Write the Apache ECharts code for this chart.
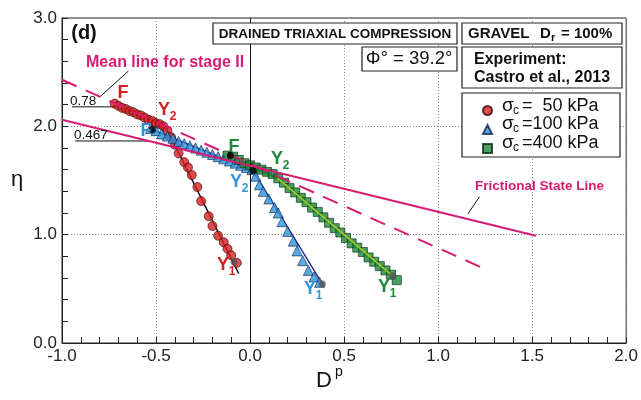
<!DOCTYPE html>
<html><head><meta charset="utf-8">
<script src="https://cdn.jsdelivr.net/npm/echarts@6/dist/echarts.min.js"></script>
<style>html,body{margin:0;padding:0;background:#fff}#c{width:641px;height:400px}</style>
</head><body><div id="c"></div>
<script>
// ---- data ----
const red50 = [[-0.72,2.21],[-0.70,2.19],[-0.68,2.17],[-0.66,2.16],[-0.64,2.14],[-0.62,2.13],[-0.60,2.11],[-0.58,2.10],[-0.56,2.08],[-0.54,2.06],[-0.52,2.05],[-0.50,2.03],[-0.48,2.02],[-0.46,2.00],[-0.44,1.96],[-0.42,1.90],[-0.40,1.83],[-0.38,1.75],[-0.35,1.67],[-0.33,1.62],[-0.31,1.55],[-0.28,1.44],[-0.26,1.31],[-0.22,1.17],[-0.20,1.08],[-0.17,0.99],[-0.14,0.93],[-0.12,0.87],[-0.10,0.81],[-0.07,0.74]];
const blue100 = [[-0.53,1.98],[-0.50,1.96],[-0.47,1.93],[-0.44,1.91],[-0.41,1.89],[-0.38,1.86],[-0.35,1.84],[-0.32,1.82],[-0.29,1.80],[-0.26,1.78],[-0.23,1.76],[-0.20,1.74],[-0.17,1.72],[-0.14,1.70],[-0.11,1.68],[-0.08,1.66],[-0.05,1.64],[-0.02,1.62],[0.01,1.60],[0.03,1.54],[0.05,1.46],[0.07,1.40],[0.10,1.33],[0.13,1.25],[0.15,1.20],[0.17,1.12],[0.20,1.03],[0.23,0.94],[0.25,0.85],[0.28,0.76],[0.31,0.67],[0.34,0.61],[0.37,0.56]];
const green400 = [[-0.12,1.73],[-0.09,1.72],[-0.06,1.69],[-0.03,1.66],[0.00,1.64],[0.03,1.62],[0.06,1.60],[0.09,1.58],[0.12,1.56],[0.15,1.52],[0.18,1.48],[0.21,1.43],[0.24,1.39],[0.27,1.34],[0.30,1.30],[0.33,1.25],[0.36,1.21],[0.39,1.16],[0.42,1.11],[0.45,1.06],[0.48,1.02],[0.51,0.97],[0.54,0.92],[0.57,0.88],[0.60,0.84],[0.63,0.79],[0.66,0.75],[0.69,0.71],[0.72,0.67],[0.75,0.63],[0.78,0.58]];
const redFit = [[-0.72,2.21],[-0.45,2.00],[-0.06,0.64]];
const blueFit = [[-0.52,1.97],[0.016,1.59],[0.39,0.53]];
const greenFit1 = [[-0.105,1.73],[0.147,1.52]];
const greenFit2 = [[0.147,1.52],[0.758,0.62]];
const meanLine = [[-1.0,2.43],[1.24,0.69]];
const fslLine = [[-1.0,2.06],[1.52,0.99]];
const fPoints = [[-0.52,1.97],[0.016,1.59],[-0.105,1.73]];
const y1Points = [[-0.085,0.75],[0.384,0.545],[0.758,0.62]];
const slopeMarks = [[[-0.947,2.18],[-0.72,2.18]],[[-0.93,1.865],[-0.537,1.865]]];
const leaders = [[[-0.647,2.51],[-0.80,2.27]],[[1.22,1.35],[1.158,1.19]]];
const xTicks = [-1.0,-0.5,0.0,0.5,1.0,1.5,2.0];
const yTicks = [0.0,1.0,2.0,3.0];

const FONT = 'Liberation Sans, Arial, sans-serif';
const PINK = '#d81b72', RED = '#d42020', BLUE = '#2f95dc', GREEN = '#1a8a3a';

const chart = echarts.init(document.getElementById('c'), null, {renderer:'canvas'});

function line(data, color, width, type, z) {
  return {type:'line', data, symbol:'none', silent:true, z: z||2,
    lineStyle:{color, width, type: type||'solid'}, animation:false};
}
const series = [
  line(redFit, '#111', 1.4, 'solid', 2),
  line(blueFit, '#1b2a8a', 1.4, 'solid', 2),
  line(greenFit1, '#111', 1.4, 'solid', 2),
  {type:'scatter', name:'s50', data:red50, symbol:'circle', symbolSize:9, z:3,
    itemStyle:{color:RED, borderColor:'#3a0505', borderWidth:0.8}},
  {type:'scatter', name:'s100', data:blue100, symbol:'triangle', symbolSize:10, z:3,
    itemStyle:{color:BLUE, borderColor:'#0c2350', borderWidth:0.8}},
  {type:'scatter', name:'s400', data:green400, symbol:'rect', symbolSize:9, z:3,
    itemStyle:{color:GREEN, borderColor:'#0a2a10', borderWidth:0.8}},
  line(greenFit2, '#a8c820', 1.6, 'solid', 4),
  line(meanLine, PINK, 2, [16,10], 5),
  line(fslLine, PINK, 2, 'solid', 5),
  {type:'scatter', data:fPoints, symbol:'circle', symbolSize:7, z:6, itemStyle:{color:'#000'}},
  {type:'scatter', data:y1Points, symbol:'circle', symbolSize:7, z:6, itemStyle:{color:'#555'}},
  line(slopeMarks[0], '#111', 1, 'solid', 2),
  line(slopeMarks[1], '#111', 1, 'solid', 2),
  line(leaders[0], '#111', 1, 'solid', 2),
  line(leaders[1], '#111', 1, 'solid', 2),
  {type:'line', data:[], markLine:{silent:true, symbol:'none', label:{show:false},
    lineStyle:{color:'#111', width:1, type:'solid'}, data:[{xAxis:0}]}}
];
series.forEach(s=>{s.animation=false;});

function fmt(v){ return Number(v).toFixed(1); }

function T(x, y, text, font, fill, align) {
  return {type:'text', x, y, z:100, style:{text, font, fill: fill||'#111',
    textAlign: align||'center', textVerticalAlign:'middle'}};
}
function box(x, y, w, h) {
  return {type:'rect', z:99, shape:{x, y, width:w, height:h},
    style:{fill:'#fff', stroke:'#222', lineWidth:1.2}};
}
function YS(x, y, sub, color) {
  return [T(x, y, 'Y', 'bold 18px '+FONT, color), T(x+9, y+7, sub, 'bold 12px '+FONT, color)];
}
const graphics = [
  T(84, 33, '(d)', 'bold 20px '+FONT, '#111'),
  T(86, 63, 'Mean line for stage II', 'bold 16px '+FONT, PINK, 'left'),
  T(475, 186, 'Frictional State Line', 'bold 13.5px '+FONT, PINK, 'left'),
  T(70, 101, '0.78', '13.5px '+FONT, '#111', 'left'),
  T(74, 135, '0.467', '13.5px '+FONT, '#111', 'left'),
  T(123, 93, 'F', 'bold 18px '+FONT, RED),
  T(146, 131, 'F', 'bold 18px '+FONT, BLUE),
  T(234, 147, 'F', 'bold 18px '+FONT, GREEN),
  ...YS(164, 110, '2', RED),
  ...YS(223, 265, '1', RED),
  ...YS(236, 182, '2', BLUE),
  ...YS(310, 289, '1', BLUE),
  ...YS(277, 159, '2', GREEN),
  ...YS(384, 287, '1', GREEN),
  box(213, 23, 244, 21),
  T(335, 34, 'DRAINED TRIAXIAL COMPRESSION', 'bold 13.5px '+FONT, '#111'),
  box(462, 23, 160, 21),
  T(468, 34, 'GRAVEL', 'bold 15px '+FONT, '#111', 'left'),
  T(540, 34, 'D', 'bold 15px '+FONT, '#111', 'left'),
  T(551, 38, 'r', 'bold 11px '+FONT, '#111', 'left'),
  T(561, 34, '= 100%', 'bold 15px '+FONT, '#111', 'left'),
  box(362, 47, 95, 24),
  T(409, 59, 'Φ° = 39.2°', '18.5px '+FONT, '#111'),
  box(462, 47, 160, 41),
  T(474, 60, 'Experiment:', 'bold 16px '+FONT, '#111', 'left'),
  T(474, 78, 'Castro et al., 2013', 'bold 16px '+FONT, '#111', 'left'),
  box(462, 93, 158, 64),
  T(17, 180, 'η', '22px '+FONT, '#111'),
  T(324, 381, 'D', '22px '+FONT, '#111'),
  T(339, 372, 'p', '14px '+FONT, '#111')
];
// legend rows
const legendRows = [['σ','c','=  50 kPa',106],['σ','c','=100 kPa',124],['σ','c','=400 kPa',143]];
legendRows.forEach(r=>{
  graphics.push(T(502, r[3], r[0], '19px '+FONT, '#111', 'left'));
  graphics.push(T(513, r[3]+5, r[1], '12px '+FONT, '#111', 'left'));
  graphics.push(T(522, r[3], r[2], '18px '+FONT, '#111', 'left'));
});

chart.setOption({
  animation:false,
  backgroundColor:'#fff',
  grid:{left:62, right:9, top:18, bottom:57, show:true, borderColor:'#222', borderWidth:1},
  legend:{show:true, orient:'vertical', left:477, top:100, itemGap:8, itemWidth:9, itemHeight:9,
    data:['s50','s100','s400'], formatter:()=>'', textStyle:{fontSize:1}, selectedMode:false, z:101},
  xAxis:{type:'value', min:-1, max:2, interval:0.5,
    axisLine:{show:true, onZero:false, lineStyle:{color:'#222'}},
    axisTick:{show:true, inside:true, length:6, lineStyle:{color:'#222'}},
    minorTick:{show:true, splitNumber:5, length:6, lineStyle:{color:'#222'}},
    splitLine:{show:true, lineStyle:{color:'#888', type:[1,2], width:1}},
    axisLabel:{formatter:fmt, fontSize:17, color:'#222', fontFamily:FONT, margin:5}},
  yAxis:{type:'value', min:0, max:3, interval:1,
    axisLine:{show:true, onZero:false, lineStyle:{color:'#222'}},
    axisTick:{show:true, inside:true, length:6, lineStyle:{color:'#222'}},
    minorTick:{show:true, splitNumber:5, length:6, lineStyle:{color:'#222'}},
    splitLine:{show:true, lineStyle:{color:'#888', type:[1,2], width:1}},
    axisLabel:{formatter:fmt, fontSize:17, color:'#222', fontFamily:FONT, margin:5}},
  series,
  graphic:graphics
});
</script></body></html>
